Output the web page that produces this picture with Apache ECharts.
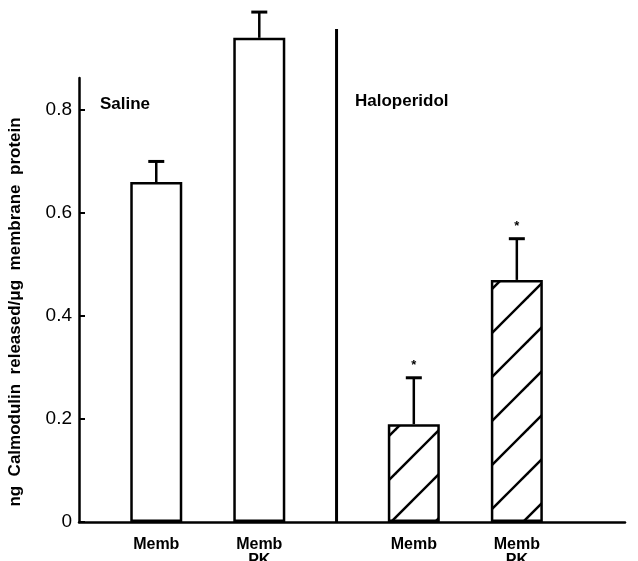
<!DOCTYPE html>
<html><head><meta charset="utf-8">
<script src="https://cdn.jsdelivr.net/npm/echarts@6/dist/echarts.min.js"></script>
<style>html,body{margin:0;padding:0;background:#fff}#c{width:638px;height:561px}</style>
</head><body><div id="c"></div>
<script>
// ---- data ----
const categories = ['Memb', 'Memb\nPK', 'Memb', 'Memb\nPK'];
const groupNames = ['Saline', 'Haloperidol'];
const meanValues = [0.66, 0.94, 0.19, 0.47];
const errorTops = [0.70, 0.99, 0.28, 0.55];
const significant = [false, false, true, true];
const hatched = [false, false, true, true];
const yTicks = [0, 0.2, 0.4, 0.6, 0.8];
const yTickLabels = ['0', '0.2', '0.4', '0.6', '0.8'];
const yAxisTitle = 'ng  Calmodulin  released/\u03bcg  membrane  protein';

// ---- layout ----
const slots = [1, 2, 3.5, 4.5];
const dividerX = 2.75;
const dividerTop = 0.957;
const FONT = '"Liberation Sans", Arial, sans-serif';

function hatchCanvas() {
  const s = 44, off = 33;
  const c = document.createElement('canvas'); c.width = s; c.height = s;
  const g = c.getContext('2d');
  g.fillStyle = '#fff'; g.fillRect(0, 0, s, s);
  g.strokeStyle = '#000'; g.lineWidth = 2.4; g.lineCap = 'butt';
  for (const t of [-2 * s, -s, 0, s, 2 * s]) {
    const k = off + t;
    g.beginPath(); g.moveTo(-10, k + 10); g.lineTo(k + 10, -10); g.stroke();
  }
  return c;
}
const pattern = { image: hatchCanvas(), repeat: 'repeat' };

const chart = echarts.init(document.getElementById('c'), null, { renderer: 'canvas' });
chart.setOption({
  animation: false,
  backgroundColor: '#fff',
  grid: { left: 79, right: 13, top: 78, bottom: 39, containLabel: false, outerBoundsMode: 'none' },
  xAxis: {
    type: 'value', min: 0.25, max: 5.55, interval: 0.25,
    splitLine: { show: false },
    axisTick: { show: false },
    axisLine: { show: true, onZero: false, lineStyle: { color: '#000', width: 2.5 } },
    axisLabel: {
      customValues: slots,
      formatter: function (v) {
        for (let i = 0; i < slots.length; i++) if (Math.abs(slots[i] - v) < 1e-6) return categories[i];
        return '';
      },
      margin: 15, color: '#000', fontFamily: FONT, fontWeight: 'bold', fontSize: 16, lineHeight: 16
    }
  },
  yAxis: {
    type: 'value', min: 0, max: 0.862,
    splitLine: { show: false },
    axisLine: { show: true, lineStyle: { color: '#000', width: 2.5 } },
    axisTick: { show: true, inside: true, length: 6, customValues: yTicks, lineStyle: { color: '#000', width: 2 } },
    axisLabel: {
      customValues: yTicks,
      formatter: function (v) {
        for (let i = 0; i < yTicks.length; i++) if (Math.abs(yTicks[i] - v) < 1e-6) return yTickLabels[i];
        return '';
      },
      margin: 7, color: '#000', fontFamily: FONT, fontSize: 19
    },
    name: yAxisTitle, nameLocation: 'middle', nameRotate: 90, nameGap: 55,
    nameTextStyle: { color: '#000', fontFamily: FONT, fontWeight: 'bold', fontSize: 17, padding: [0, 24, 0, 0] }
  },
  graphic: [
    { type: 'text', left: 100, top: 96, style: { text: groupNames[0], fill: '#000', font: 'bold 17px ' + FONT } },
    { type: 'text', left: 355, top: 93, style: { text: groupNames[1], fill: '#000', font: 'bold 17px ' + FONT } }
  ],
  series: [
    {
      type: 'bar', clip: false, barWidth: 52, z: 2,
      data: meanValues.map((v, i) => ({ value: [slots[i], v], itemStyle: { color: hatched[i] ? pattern : '#fff' } })),
      itemStyle: { borderColor: '#000', borderWidth: 2.5 }
    },
    {
      type: 'custom', clip: false, z: 3,
      data: errorTops.map((e, i) => [slots[i], meanValues[i], e, significant[i] ? 1 : 0]),
      renderItem: function (params, api) {
        const x = api.value(0);
        const p0 = api.coord([x, api.value(1)]);
        const p1 = api.coord([x, api.value(2)]);
        const children = [
          { type: 'line', shape: { x1: p0[0], y1: p0[1], x2: p1[0], y2: p1[1] }, style: { stroke: '#000', lineWidth: 2.5 } },
          { type: 'line', shape: { x1: p1[0] - 8, y1: p1[1], x2: p1[0] + 8, y2: p1[1] }, style: { stroke: '#000', lineWidth: 3 } }
        ];
        if (api.value(3)) {
          children.push({ type: 'text', style: { text: '*', x: p1[0], y: p1[1] - 19, align: 'center', verticalAlign: 'top', font: 'bold 13px ' + FONT, fill: '#000' } });
        }
        return { type: 'group', children: children };
      }
    },
    {
      type: 'custom', clip: false, z: 3,
      data: [[dividerX, dividerTop]],
      renderItem: function (params, api) {
        const a = api.coord([api.value(0), 0]);
        const b = api.coord([api.value(0), api.value(1)]);
        return { type: 'line', shape: { x1: a[0], y1: a[1], x2: b[0], y2: b[1] }, style: { stroke: '#000', lineWidth: 3 } };
      }
    }
  ]
});
</script>
</body></html>
